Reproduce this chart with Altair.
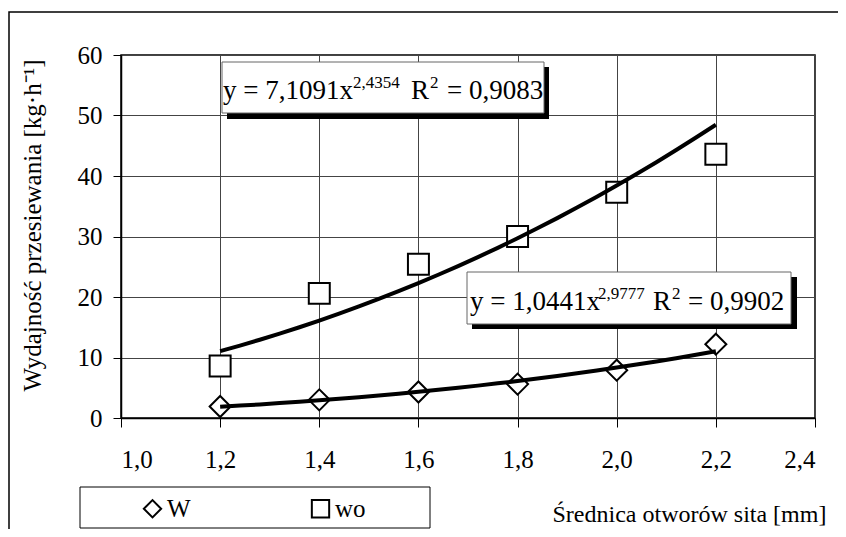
import altair as alt
import pandas as pd

# ---- data ----
x_values = [1.2, 1.4, 1.6, 1.8, 2.0, 2.2]
w_values = [1.9, 3.0, 4.3, 5.6, 7.9, 12.2]
wo_values = [8.6, 20.6, 25.4, 30.0, 37.3, 43.6]
series_names = ["W", "wo"]
x_ticks = [1.0, 1.2, 1.4, 1.6, 1.8, 2.0, 2.2, 2.4]
y_ticks = [0, 10, 20, 30, 40, 50, 60]
eq_wo = ["y = 7,1091x", "2,4354", "R", "2", "= 0,9083"]
eq_w = ["y = 1,0441x", "2,9777", "R", "2", "= 0,9902"]
x_title = "Średnica otworów sita [mm]"
y_title = "Wydajność przesiewania [kg·h⁻¹]"

df = pd.DataFrame({
    "x": x_values + x_values,
    "y": w_values + wo_values,
    "series": [series_names[0]] * len(x_values) + [series_names[1]] * len(x_values),
})

FONT = "Liberation Serif"
W, H = 694, 363

xscale = alt.Scale(domain=[1.0, 2.4], nice=False, zero=False)
yscale = alt.Scale(domain=[0, 60], nice=False)

x_axis = alt.Axis(
    values=x_ticks,
    labelExpr="replace(format(datum.value, '.1f'), '.', ',')",
    title=x_title, grid=True, tickSize=9, labelPadding=20,
    titleX=431, titleY=103, titleAlign="left", titleBaseline="alphabetic",
    titleFontSize=24,
)
y_axis = alt.Axis(
    values=y_ticks, format="d", title=y_title, grid=True, tickSize=8, labelPadding=11,
    titleAngle=-90, titleX=-89, titleY=170, titleAlign="center", titleBaseline="middle",
)

X = alt.X("x:Q", scale=xscale, axis=x_axis)
Y = alt.Y("y:Q", scale=yscale, axis=y_axis)

legend = alt.Legend(
    orient="none", legendX=19, legendY=441, direction="horizontal",
    columns=2, columnPadding=116, title=None, padding=0,
    labelFont=FONT, labelFontSize=25, labelColor="black", labelOffset=2,
    symbolSize=300, symbolStrokeWidth=2, symbolFillColor="white",
)

points = alt.Chart(df).mark_point(
    fill="white", strokeWidth=2, opacity=1, fillOpacity=1, size=440
).encode(
    x=X, y=Y,
    shape=alt.Shape(
        "series:N",
        scale=alt.Scale(domain=series_names, range=["diamond", "square"]),
        legend=legend,
    ),
    color=alt.Color(
        "series:N",
        scale=alt.Scale(domain=series_names, range=["black", "black"]),
        legend=legend,
    ),
)

trend = alt.Chart(df).transform_regression(
    "x", "y", groupby=["series"], method="pow"
).mark_line(color="black", strokeWidth=4).encode(x=X, y=Y, detail="series:N")


def box(x1, y1, x2, y2, fill, stroke, sw):
    return alt.Chart(pd.DataFrame({"a": [0]})).mark_rect(
        fill=fill, stroke=stroke, strokeWidth=sw
    ).encode(x=alt.value(x1), x2=alt.value(x2), y=alt.value(y1), y2=alt.value(y2))


def txt(s, px, py, size):
    return alt.Chart(pd.DataFrame({"t": [s]})).mark_text(
        align="left", baseline="alphabetic", font=FONT, fontSize=size, color="black"
    ).encode(x=alt.value(px), y=alt.value(py), text="t:N")


def equation(parts, y0, xs):
    main, sup = 27, 17
    return [
        txt(parts[0], xs[0], y0, main),
        txt(parts[1], xs[1], y0 - 11, sup),
        txt(parts[2], xs[2], y0, main),
        txt(parts[3], xs[3], y0 - 11, sup),
        txt(parts[4], xs[4], y0, main),
    ]


frame = box(-112, -43, 900, 700, "transparent", "black", 1.5)

layers = [frame, points, trend]
layers += [box(106, 12, 428, 64, "black", "black", 0), box(101, 7, 423, 58, "white", "#666", 1)]
layers += equation(eq_wo, 44, [102, 232, 290, 309, 326])
layers += [box(351, 222, 676, 274, "black", "black", 0), box(346, 217, 670, 269, "white", "#666", 1)]
layers += equation(eq_w, 255, [349, 477, 532, 551, 567])
layers += [box(-41, 432, 309, 473, "transparent", "black", 1)]

chart = alt.layer(*layers).properties(
    width=W, height=H,
    padding={"left": 113, "top": 47, "right": 23, "bottom": 111},
    autosize=alt.AutoSizeParams(type="none"),
).configure_view(
    stroke="black", strokeWidth=1.5
).configure_axis(
    labelFont=FONT, labelFontSize=25, titleFont=FONT, titleFontSize=25,
    titleFontWeight="normal", labelColor="black", titleColor="black",
    domainColor="black", tickColor="black", gridColor="#444", gridWidth=1,
    domainWidth=1.5,
)

chart.save("out.html", embed_options={"renderer": "svg", "actions": False})
